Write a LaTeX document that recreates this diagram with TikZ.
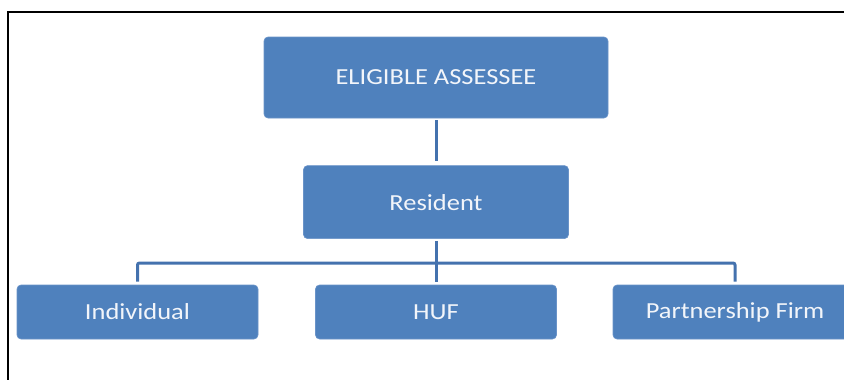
\documentclass[tikz,border=0pt]{standalone}
\usepackage{fontspec}
\setmainfont{Carlito}[FakeStretch=1.15]
\usetikzlibrary{positioning}
\definecolor{oblue}{HTML}{4F81BD}
\definecolor{obluel}{HTML}{6A93C8}
\definecolor{oblued}{HTML}{4472AE}
\definecolor{otext}{HTML}{F2F5FA}
\tikzset{
  % Office-like filled box, text in light colour.
  ebox/.style = {rectangle, rounded corners=4pt, draw=obluel, fill=oblue, line width=0.6pt,
                 inner sep=0pt, align=center, text=otext, font=\fontsize{23}{27}\selectfont},
  conn/.style = {line width=3pt, draw=oblued},
}
\begin{document}
\begin{tikzpicture}[x=1pt,y=-1pt]
\useasboundingbox (0,0) rectangle (844,380);
\clip (0,0) rectangle (844,380);
% frame
\draw[line width=1.8pt] (8,380) -- (8,12) -- (845,12);

\node[ebox, minimum width=344pt, minimum height=81pt] (top) at (436,77.5) {ELIGIBLE ASSESSEE};
\node[ebox, minimum width=265pt, minimum height=73pt, below=47pt of top] (res) {Resident};
\node[ebox, minimum width=241pt, minimum height=54pt] (ind) at (137.5,312) {Individual};
\node[ebox, minimum width=241pt, minimum height=54pt] (huf) at (436,312) {HUF};
\node[ebox, minimum width=244pt, minimum height=54pt] (firm) at (735,312) {Partnership Firm};

\coordinate (bus) at (436,263);
\draw[conn] ([yshift=-2pt]top.south) -- ([yshift=4pt]res.north);
\draw[conn] ([yshift=-2pt]res.south) -- (bus);
\draw[conn, rounded corners=2pt] (bus) -| ([yshift=3pt]ind.north);
\draw[conn, rounded corners=2pt] (bus) -| ([yshift=3pt]firm.north);
\draw[conn] (bus) -- ([yshift=3pt]huf.north);
\end{tikzpicture}
\end{document}
